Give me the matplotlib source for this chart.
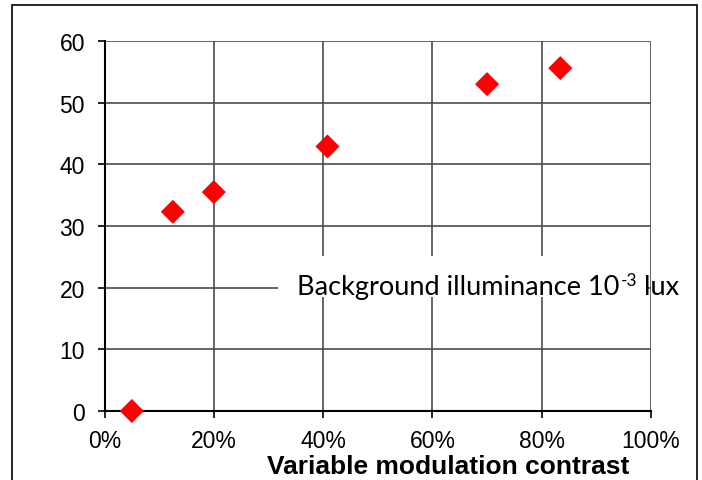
import matplotlib
matplotlib.use("Agg")
import matplotlib.pyplot as plt
from matplotlib.patches import Rectangle
from matplotlib.ticker import FuncFormatter

# Data
contrast = [0.05, 0.125, 0.20, 0.408, 0.70, 0.834]
threshold = [0.0, 32.3, 35.5, 42.9, 53.0, 55.6]
x_ticks = [0.0, 0.2, 0.4, 0.6, 0.8, 1.0]
y_ticks = [0, 10, 20, 30, 40, 50, 60]
x_label = "Variable modulation contrast"
note_main = "Background illuminance 10"
note_sup = "-3"
note_tail = " lux"

W, H = 702, 481
fig = plt.figure(figsize=(W / 100, H / 100), dpi=100)
fig.patch.set_facecolor("white")

left, right, top, bottom = 104.5, 651, 42, 412
ax = fig.add_axes([left / W, 1 - bottom / H, (right - left) / W, (bottom - top) / H])

ax.set_xlim(0, 1)
ax.set_ylim(0, 60)
ax.set_xticks(x_ticks)
ax.set_yticks(y_ticks)
ax.xaxis.set_major_formatter(FuncFormatter(lambda v, p: f"{v*100:.0f}%"))

ax.grid(True, color="#4d4d4d", linewidth=1.2)
ax.set_axisbelow(True)

for s in ["top", "right"]:
    ax.spines[s].set_visible(False)
for s in ["left", "bottom"]:
    ax.spines[s].set_color("black")
    ax.spines[s].set_linewidth(1.5)
    ax.spines[s].set_zorder(3)

ax.tick_params(axis="both", direction="out", length=5, width=1.2, color="black",
               labelsize=16.5)
ax.tick_params(axis="y", pad=9)
ax.tick_params(axis="x", pad=8)
for lab in ax.get_xticklabels() + ax.get_yticklabels():
    lab.set_fontfamily("Liberation Sans")

# white box behind note (covers grid)
box_l, box_r, box_t, box_b = 278, 648, 257, 298
ax.add_patch(Rectangle(((box_l - left) / (right - left), (bottom - box_b) / (bottom - top)),
                       (box_r - box_l) / (right - left), (box_b - box_t) / (bottom - top),
                       transform=ax.transAxes, facecolor="white", edgecolor="none",
                       zorder=1.5, clip_on=False))

ax.scatter(contrast, threshold, marker="D", s=150, color="#ff0000", edgecolors="none",
           zorder=4, clip_on=False)

# note text with superscript, pieced together
renderer = fig.canvas.get_renderer()
base_y = 1 - 295 / H
t1 = fig.text(297 / W, base_y, note_main, family="Lato", fontsize=19.5, va="baseline",
              ha="left", zorder=5)
bb1 = t1.get_window_extent(renderer)
t2 = fig.text((bb1.x1 + 1) / W, base_y + 9 / H, note_sup, family="Lato", fontsize=12.5,
              va="baseline", ha="left", zorder=5)
bb2 = t2.get_window_extent(renderer)
fig.text(bb2.x1 / W, base_y, note_tail, family="Lato", fontsize=19.5, va="baseline",
         ha="left", zorder=5)

fig.text(448 / W, 1 - 474 / H, x_label, family="Liberation Sans", fontweight="bold",
         fontsize=19, ha="center", va="baseline")

# figure border
fig.patches.append(Rectangle((12 / W, -0.05), (697 - 12) / W, 1 - 6 / H + 0.05,
                             transform=fig.transFigure, fill=False, edgecolor="black",
                             linewidth=1.2, zorder=10))

fig.savefig("out.png", dpi=100)
